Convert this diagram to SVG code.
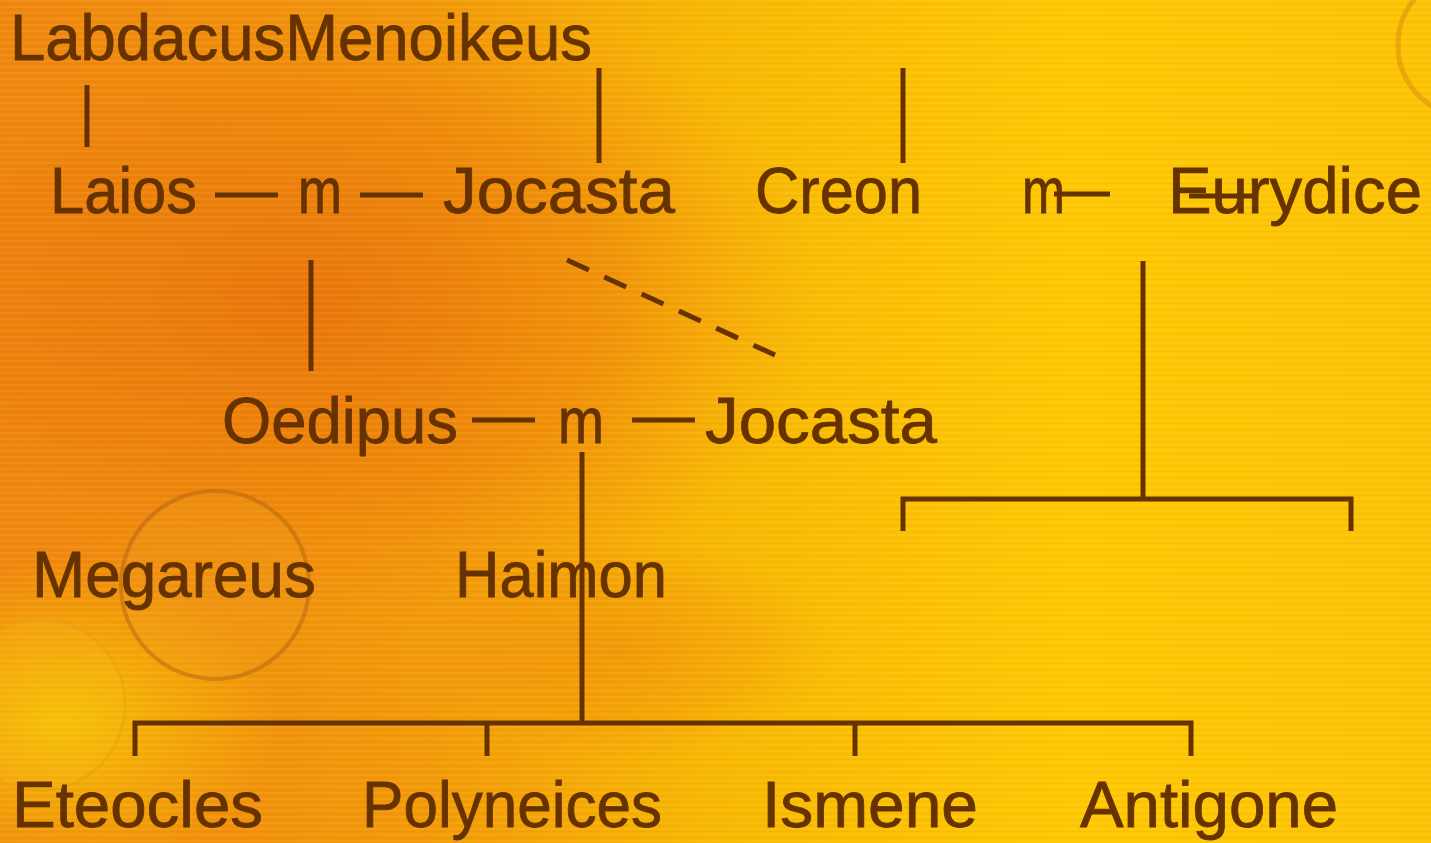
<svg xmlns="http://www.w3.org/2000/svg" width="1431" height="843" viewBox="0 0 1431 843">
<defs>
<linearGradient id="bg" x1="0" y1="0" x2="1" y2="0">
<stop offset="0" stop-color="#EF860E"/>
<stop offset="0.3" stop-color="#F29A08"/>
<stop offset="0.5" stop-color="#F8B802"/>
<stop offset="0.75" stop-color="#FEC802"/>
<stop offset="1" stop-color="#FCC304"/>
</linearGradient>
<radialGradient id="blob" cx="0.5" cy="0.5" r="0.5">
<stop offset="0" stop-color="#E8700A" stop-opacity="0.85"/>
<stop offset="0.6" stop-color="#EC7E0A" stop-opacity="0.55"/>
<stop offset="1" stop-color="#F29010" stop-opacity="0"/>
</radialGradient>
<radialGradient id="yel" cx="0.5" cy="0.5" r="0.5">
<stop offset="0" stop-color="#F8C800" stop-opacity="0.9"/>
<stop offset="1" stop-color="#F8C800" stop-opacity="0"/>
</radialGradient>
<pattern id="stripes" width="8" height="6" patternUnits="userSpaceOnUse">
<rect width="8" height="2" fill="#ffffff" opacity="0.06"/>
<rect y="3" width="8" height="1" fill="#a04000" opacity="0.05"/>
</pattern>
</defs>
<style>
.t{font-family:"Liberation Sans","DejaVu Sans",sans-serif;font-size:64px;fill:#663300;stroke:#663300;stroke-width:0.8}
.l{stroke:#663300;stroke-width:5;fill:none}
</style>
<g id="background">
<rect width="1431" height="843" fill="url(#bg)"/>
<ellipse cx="300" cy="300" rx="520" ry="340" fill="url(#blob)"/>
<ellipse cx="60" cy="720" rx="220" ry="160" fill="url(#yel)"/>
<ellipse cx="620" cy="650" rx="220" ry="110" fill="url(#blob)" opacity="0.4"/>
<rect width="1431" height="843" fill="url(#stripes)"/>
<circle cx="215" cy="585" r="94" fill="#F0A020" fill-opacity="0.25" stroke="#A86010" stroke-width="4" stroke-opacity="0.45"/>
<circle cx="40" cy="705" r="85" fill="#F8C020" fill-opacity="0.2" stroke="#E0A010" stroke-width="3" stroke-opacity="0.4"/>
<circle cx="1470" cy="45" r="72" fill="none" stroke="#D88A10" stroke-width="5" stroke-opacity="0.5"/>
</g>
<g id="connectors">
<line class="l" x1="87" y1="85" x2="87" y2="147"/>
<line class="l" x1="599" y1="68" x2="599" y2="163"/>
<line class="l" x1="903" y1="68" x2="903" y2="163"/>
<line class="l" x1="215" y1="195" x2="278" y2="195"/>
<line class="l" x1="360" y1="195" x2="423" y2="195"/>
<line class="l" x1="1054" y1="194" x2="1110" y2="194"/>
<line class="l" x1="1189" y1="196" x2="1255" y2="196"/>
<line class="l" x1="311" y1="260" x2="311" y2="371"/>
<line class="l" x1="567" y1="260" x2="775" y2="355" stroke-dasharray="24 17"/>
<line class="l" x1="472" y1="420" x2="535" y2="420"/>
<line class="l" x1="632" y1="420" x2="695" y2="420"/>
<line class="l" x1="1143" y1="261" x2="1143" y2="499"/>
<polyline class="l" points="903,531 903,499 1351,499 1351,531"/>
<line class="l" x1="582" y1="452" x2="582" y2="723"/>
<polyline class="l" points="135,756 135,723 1191,723 1191,756"/>
<line class="l" x1="487" y1="723" x2="487" y2="756"/>
<line class="l" x1="855" y1="723" x2="855" y2="756"/>
</g>
<g id="n-labdacus-menoikeus"><text class="t" x="10" y="60" textLength="582" lengthAdjust="spacingAndGlyphs">LabdacusMenoikeus</text></g>
<g id="n-laios"><text class="t" x="50" y="213" textLength="147" lengthAdjust="spacingAndGlyphs">Laios</text></g>
<g id="n-m1"><text class="t" x="298" y="213" textLength="44" lengthAdjust="spacingAndGlyphs">m</text></g>
<g id="n-jocasta1"><text class="t" x="443" y="213" textLength="232" lengthAdjust="spacingAndGlyphs">Jocasta</text></g>
<g id="n-creon"><text class="t" x="755" y="213" textLength="167" lengthAdjust="spacingAndGlyphs">Creon</text></g>
<g id="n-m2"><text class="t" x="1022" y="213" textLength="43" lengthAdjust="spacingAndGlyphs">m</text></g>
<g id="n-eurydice"><text class="t" x="1168" y="213" textLength="254" lengthAdjust="spacingAndGlyphs">Eurydice</text></g>
<g id="n-oedipus"><text class="t" x="222" y="443" textLength="236" lengthAdjust="spacingAndGlyphs">Oedipus</text></g>
<g id="n-m3"><text class="t" x="558" y="443" textLength="46" lengthAdjust="spacingAndGlyphs">m</text></g>
<g id="n-jocasta2"><text class="t" x="705" y="443" textLength="232" lengthAdjust="spacingAndGlyphs">Jocasta</text></g>
<g id="n-megareus"><text class="t" x="32" y="597" textLength="284" lengthAdjust="spacingAndGlyphs">Megareus</text></g>
<g id="n-haimon"><text class="t" x="455" y="597" textLength="212" lengthAdjust="spacingAndGlyphs">Haimon</text></g>
<g id="n-eteocles"><text class="t" x="12" y="827" textLength="251" lengthAdjust="spacingAndGlyphs">Eteocles</text></g>
<g id="n-polyneices"><text class="t" x="362" y="827" textLength="300" lengthAdjust="spacingAndGlyphs">Polyneices</text></g>
<g id="n-ismene"><text class="t" x="762" y="827" textLength="216" lengthAdjust="spacingAndGlyphs">Ismene</text></g>
<g id="n-antigone"><text class="t" x="1080" y="827" textLength="258" lengthAdjust="spacingAndGlyphs">Antigone</text></g>
</svg>
